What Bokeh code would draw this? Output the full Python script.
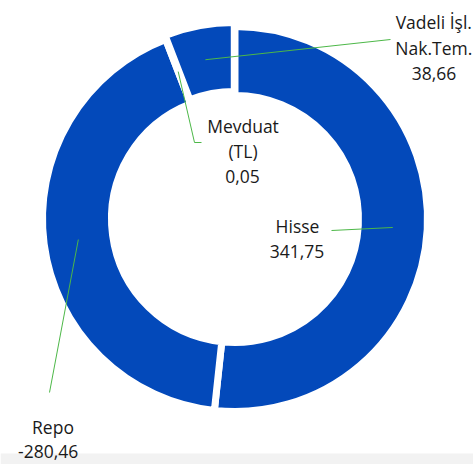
import math
from bokeh.plotting import figure
from bokeh.models import Range1d, BoxAnnotation, ColumnDataSource
from bokeh.core.properties import value
from bokeh.embed import file_html
from bokeh.resources import INLINE

# ---- data ----
categories = ["Hisse", "Repo", "Mevduat (TL)", "Vadeli İşl. Nak.Tem."]
values = [341.75, -280.46, 0.05, 38.66]
label_lines = [["Hisse"], ["Repo"], ["Mevduat", "(TL)"], ["Vadeli İşl.", "Nak.Tem."]]

# ---- styles ----
BLUE = "#0349BA"
GREEN = "#4DB848"
TEXT = "#1A1A1A"
FONT = value("Open Sans")
FSIZE = "17.5px"

W, H = 473, 464
X0, Y0 = 0, 0


def dy(sy):
    return (Y0 + H) - sy


p = figure(width=W, height=H, x_range=Range1d(X0, X0 + W), y_range=Range1d(0, H),
           output_backend="svg", toolbar_location=None,
           x_axis_location=None, y_axis_location=None, min_border=0,
           outline_line_color=None, background_fill_color="white")
p.xgrid.visible = False
p.ygrid.visible = False

# light band at the bottom of the picture
p.add_layout(BoxAnnotation(left=X0, right=X0 + W, bottom=0, top=dy(453),
                           fill_color="#F2F2F2", fill_alpha=1.0, line_color=None,
                           level="underlay"))

# ---- ring geometry ----
CX, CY = 234.5, dy(218.5)
R_OUT, R_IN = 189.0, 127.0
GAP = 7.0
explode = [0, 0, 0, 4]

mags = [abs(v) for v in values]
total = sum(mags)
t0s, t1s, mids = [], [], []
acc = 0.0
for m in mags:
    t0 = acc / total * 360.0
    acc += m
    t1 = acc / total * 360.0
    t0s.append(t0); t1s.append(t1); mids.append((t0 + t1) / 2)

xs, ys, sa, ea = [], [], [], []
for i in range(len(values)):
    a = math.radians(mids[i])
    xs.append(CX + explode[i] * math.sin(a))
    ys.append(CY + explode[i] * math.cos(a))
    sa.append(math.radians(90 - t1s[i]))
    ea.append(math.radians(90 - t0s[i]))

src = ColumnDataSource(dict(x=xs, y=ys, start=sa, end=ea, cat=categories, val=values))
p.annular_wedge(x="x", y="y", inner_radius=R_IN - GAP / 2, outer_radius=R_OUT + GAP / 2,
                start_angle="start", end_angle="end", source=src,
                fill_color=BLUE, line_color="white", line_width=GAP)

# ---- leader lines ----
leader_ends = [[(331, 230)], [(49, 392)], [(194, 142), (201, 142)], [(390, 39)]]
r_mid = (R_OUT + R_IN) / 2
lx, ly = [], []
for i in range(len(values)):
    a = math.radians(mids[i])
    px = xs[i] + r_mid * math.sin(a)
    py = ys[i] + r_mid * math.cos(a)
    lx.append([px] + [e[0] for e in leader_ends[i]])
    ly.append([py] + [dy(e[1]) for e in leader_ends[i]])
p.multi_line(lx, ly, line_color=GREEN, line_width=1)

# ---- labels ----
label_pos = [
    [(297, 225.3), (296.5, 250.5)],
    [(52.5, 426.0), (47.7, 450.5)],
    [(242.5, 125), (242.5, 150.5), (242, 175.8)],
    [(433.3, 21.5), (433.3, 47), (433.5, 72.5)],
]
tx, ty, tt = [], [], []
for i in range(len(values)):
    lines = label_lines[i] + [f"{values[i]:.2f}".replace(".", ",")]
    for (px, py), s in zip(label_pos[i], lines):
        tx.append(px); ty.append(dy(py)); tt.append(s)
p.text(tx, ty, text=tt, text_font=FONT, text_font_size=FSIZE, text_color=TEXT,
       text_align="center", text_baseline="alphabetic")

open("out.html", "w").write(file_html(p, INLINE))
